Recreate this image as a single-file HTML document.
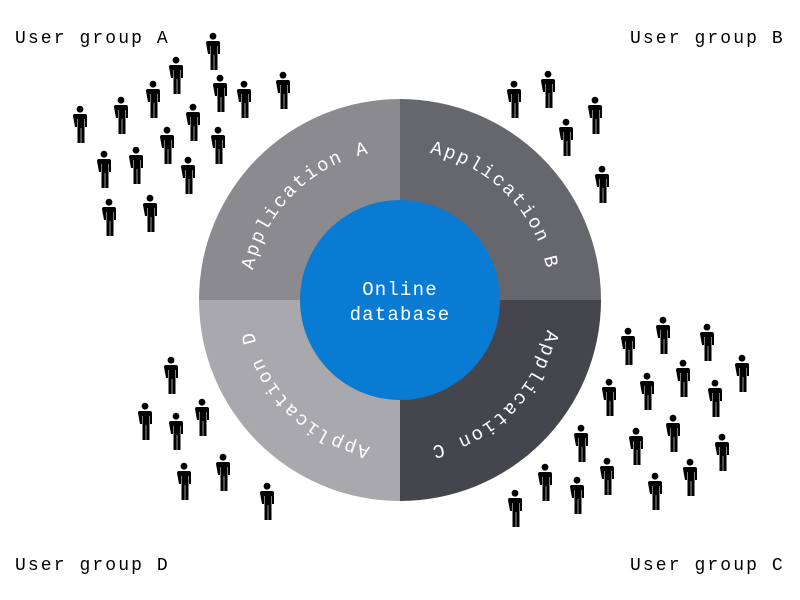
<!DOCTYPE html>
<html><head><meta charset="utf-8"><style>
html,body{margin:0;padding:0;background:#fff;}
svg{display:block;}
text{font-family:"Liberation Mono",monospace;}
</style></head><body>
<svg width="800" height="600" viewBox="0 0 800 600" xmlns="http://www.w3.org/2000/svg">
<defs>
<g id="p">
<circle cx="0" cy="3.2" r="3.4" fill="#000"/>
<path d="M-7,10 q0,-2 2,-2 h10 q2,0 2,2 v11 h-2 v-8 h-0.5 v24 h-3.2 v-15 h-0.6 v15 h-3.2 v-24 h-0.5 v8 h-2 z" fill="#000"/>
</g>
<path id="aA" d="M250,300 A150,150 0 0 1 400,150"/>
<path id="aB" d="M400,150 A150,150 0 0 1 550,300"/>
<path id="aC" d="M550,300 A150,150 0 0 1 400,450"/>
<path id="aD" d="M400,450 A150,150 0 0 1 250,300"/>
</defs>
<path d="M400,300 L199,300 A201,201 0 0 1 400,99 Z" fill="#8a8a8f"/>
<path d="M400,300 L400,99 A201,201 0 0 1 601,300 Z" fill="#66666d"/>
<path d="M400,300 L601,300 A201,201 0 0 1 400,501 Z" fill="#45454e"/>
<path d="M400,300 L400,501 A201,201 0 0 1 199,300 Z" fill="#a9a9ad"/>
<circle cx="400" cy="300" r="100" fill="#0a7bd3"/>
<g fill="#fff" font-size="19" letter-spacing="2.1" text-anchor="middle">
<text><textPath href="#aA" startOffset="50%">Application A</textPath></text>
<text><textPath href="#aB" startOffset="50%">Application B</textPath></text>
<text><textPath href="#aC" startOffset="50%">Application C</textPath></text>
<text><textPath href="#aD" startOffset="50%">Application D</textPath></text>
<text x="400" y="295" letter-spacing="1.2">Online</text>
<text x="400" y="320" letter-spacing="1.2">database</text>
</g>
<g font-size="18" letter-spacing="2.1" fill="#000">
<text x="15" y="43">User group A</text>
<text x="630" y="43">User group B</text>
<text x="15" y="570">User group D</text>
<text x="630" y="570">User group C</text>
</g>
<g>
<use href="#p" x="213" y="33"/><use href="#p" x="176" y="57"/><use href="#p" x="153" y="81"/><use href="#p" x="220" y="75"/><use href="#p" x="244" y="81"/><use href="#p" x="283" y="72"/><use href="#p" x="80" y="106"/><use href="#p" x="121" y="97"/><use href="#p" x="193" y="104"/><use href="#p" x="167" y="127"/><use href="#p" x="218" y="127"/><use href="#p" x="136" y="147"/><use href="#p" x="104" y="151"/><use href="#p" x="188" y="157"/><use href="#p" x="150" y="195"/><use href="#p" x="109" y="199"/>
<use href="#p" x="514" y="81"/><use href="#p" x="548" y="71"/><use href="#p" x="595" y="97"/><use href="#p" x="566" y="119"/><use href="#p" x="602" y="166"/>
<use href="#p" x="628" y="328"/><use href="#p" x="663" y="317"/><use href="#p" x="707" y="324"/><use href="#p" x="742" y="355"/><use href="#p" x="609" y="379"/><use href="#p" x="647" y="373"/><use href="#p" x="683" y="360"/><use href="#p" x="715" y="380"/><use href="#p" x="581" y="425"/><use href="#p" x="636" y="428"/><use href="#p" x="673" y="415"/><use href="#p" x="722" y="434"/><use href="#p" x="545" y="464"/><use href="#p" x="577" y="477"/><use href="#p" x="607" y="458"/><use href="#p" x="655" y="473"/><use href="#p" x="690" y="459"/><use href="#p" x="515" y="490"/>
<use href="#p" x="171" y="357"/><use href="#p" x="145" y="403"/><use href="#p" x="176" y="413"/><use href="#p" x="202" y="399"/><use href="#p" x="184" y="463"/><use href="#p" x="223" y="454"/><use href="#p" x="267" y="483"/>
</g>
</svg>
</body></html>
